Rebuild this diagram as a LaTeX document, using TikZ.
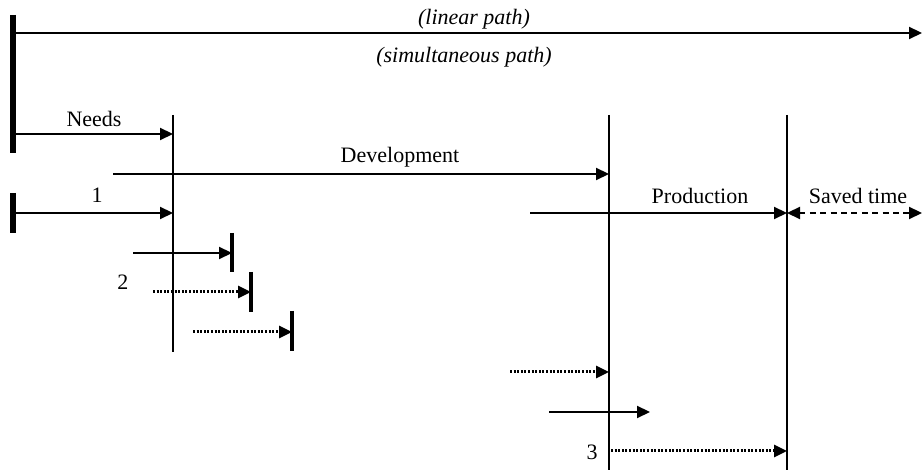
\documentclass[tikz,border=0pt]{standalone}
\usepackage{fontspec}
\setmainfont{Liberation Serif}
\usetikzlibrary{arrows.meta}
\usetikzlibrary{positioning}

\begin{document}
\begin{tikzpicture}[x=0.5pt, y=-0.5pt, font=\fontsize{11}{13}\selectfont,
        line/.style={line width=1.1pt},
        arr/.style={line, -{Triangle[length=6.5pt,width=6pt]}},
        dotarr/.style={arr, line width=1.5pt, dash pattern=on 1pt off 0.8pt},
        savedarr/.style={line, dash pattern=on 3pt off 2.2pt, {Triangle[length=6.5pt,width=6pt]}-{Triangle[length=6.5pt,width=6pt]}},
        startbar/.style={line width=2.8pt},
        phase/.style={line width=1.3pt},
        stopbar/.style={line width=1.6pt},
        lbl/.style={inner sep=1pt}]
    \useasboundingbox (0,0) rectangle (923,470);

    % Phase boundaries
    \coordinate (needs top) at (173,115); \coordinate (needs bot) at (173,352);
    \coordinate (dev top) at (609,115);   \coordinate (dev bot) at (609,470);
    \coordinate (prod top) at (787,115);  \coordinate (prod bot) at (787,470);
    \draw[phase] (needs top) -- (needs bot);
    \draw[phase] (dev top) -- (dev bot);
    \draw[phase] (prod top) -- (prod bot);

    % Linear path
    \coordinate (lin a) at (13,15);  \coordinate (lin b) at (13,153);
    \coordinate (lin s) at (15,33);  \coordinate (lin e) at (922,33);
    \draw[startbar] (lin a) -- (lin b);
    \draw[arr] (lin s) -- (lin e);
    \node[lbl] (linear) at (474,19) {\itshape (linear path)};
    \node[lbl] (simult) at (464,57) {\itshape (simultaneous path)};

    % Needs and development
    \coordinate (needs s) at (15,134);
    \draw[arr] (needs s) -- (needs s -| needs top);
    \node[lbl] (needs) at (94,119) {Needs};
    \coordinate (dev s) at (113,174);
    \draw[arr] (dev s) -- (dev s -| dev top);
    \node[lbl] (development) at (400,157) {Development};

    % Simultaneous path
    \coordinate (sim a) at (13,193); \coordinate (sim b) at (13,233);
    \coordinate (sim s) at (15,213);
    \draw[startbar] (sim a) -- (sim b);
    \draw[arr] (sim s) -- (sim s -| needs top);
    \node[lbl] (one) at (97,195) {1};

    % Production and saved time
    \coordinate (prod s) at (530,213);
    \coordinate (prod e) at (prod s -| prod top);
    \coordinate (saved e) at (922,213);
    \draw[arr] (prod s) -- (prod e);
    \draw[savedarr] (prod e) -- (saved e);
    \node[lbl] (production) at (700,196) {Production};
    \node[lbl] (saved) at (858,196) {Saved time};

    % Overlapping tasks 2
    \coordinate (t1 s) at (133,253); \coordinate (t1 e) at (232,253);
    \draw[arr] (t1 s) -- (t1 e);
    \draw[stopbar] (232,233) -- (232,272);
    \coordinate (t2 s) at (153,292); \coordinate (t2 e) at (251,292);
    \draw[dotarr] (t2 s) -- (t2 e);
    \draw[stopbar] (251,272) -- (251,312);
    \coordinate (t3 s) at (193,332); \coordinate (t3 e) at (292,332);
    \draw[dotarr] (t3 s) -- (t3 e);
    \draw[stopbar] (292,311) -- (292,351);
    \node[lbl] (two) at (123,282) {2};

    % Overlapping tasks 3
    \coordinate (t4 s) at (510,372);
    \draw[dotarr] (t4 s) -- (t4 s -| dev top);
    \coordinate (t5 s) at (549,412); \coordinate (t5 e) at (650,412);
    \draw[arr] (t5 s) -- (t5 e);
    \coordinate (t6 s) at (611,451);
    \draw[dotarr] (t6 s) -- (t6 s -| prod top);
    \node[lbl] (three) at (592,452) {3};
\end{tikzpicture}
\end{document}
